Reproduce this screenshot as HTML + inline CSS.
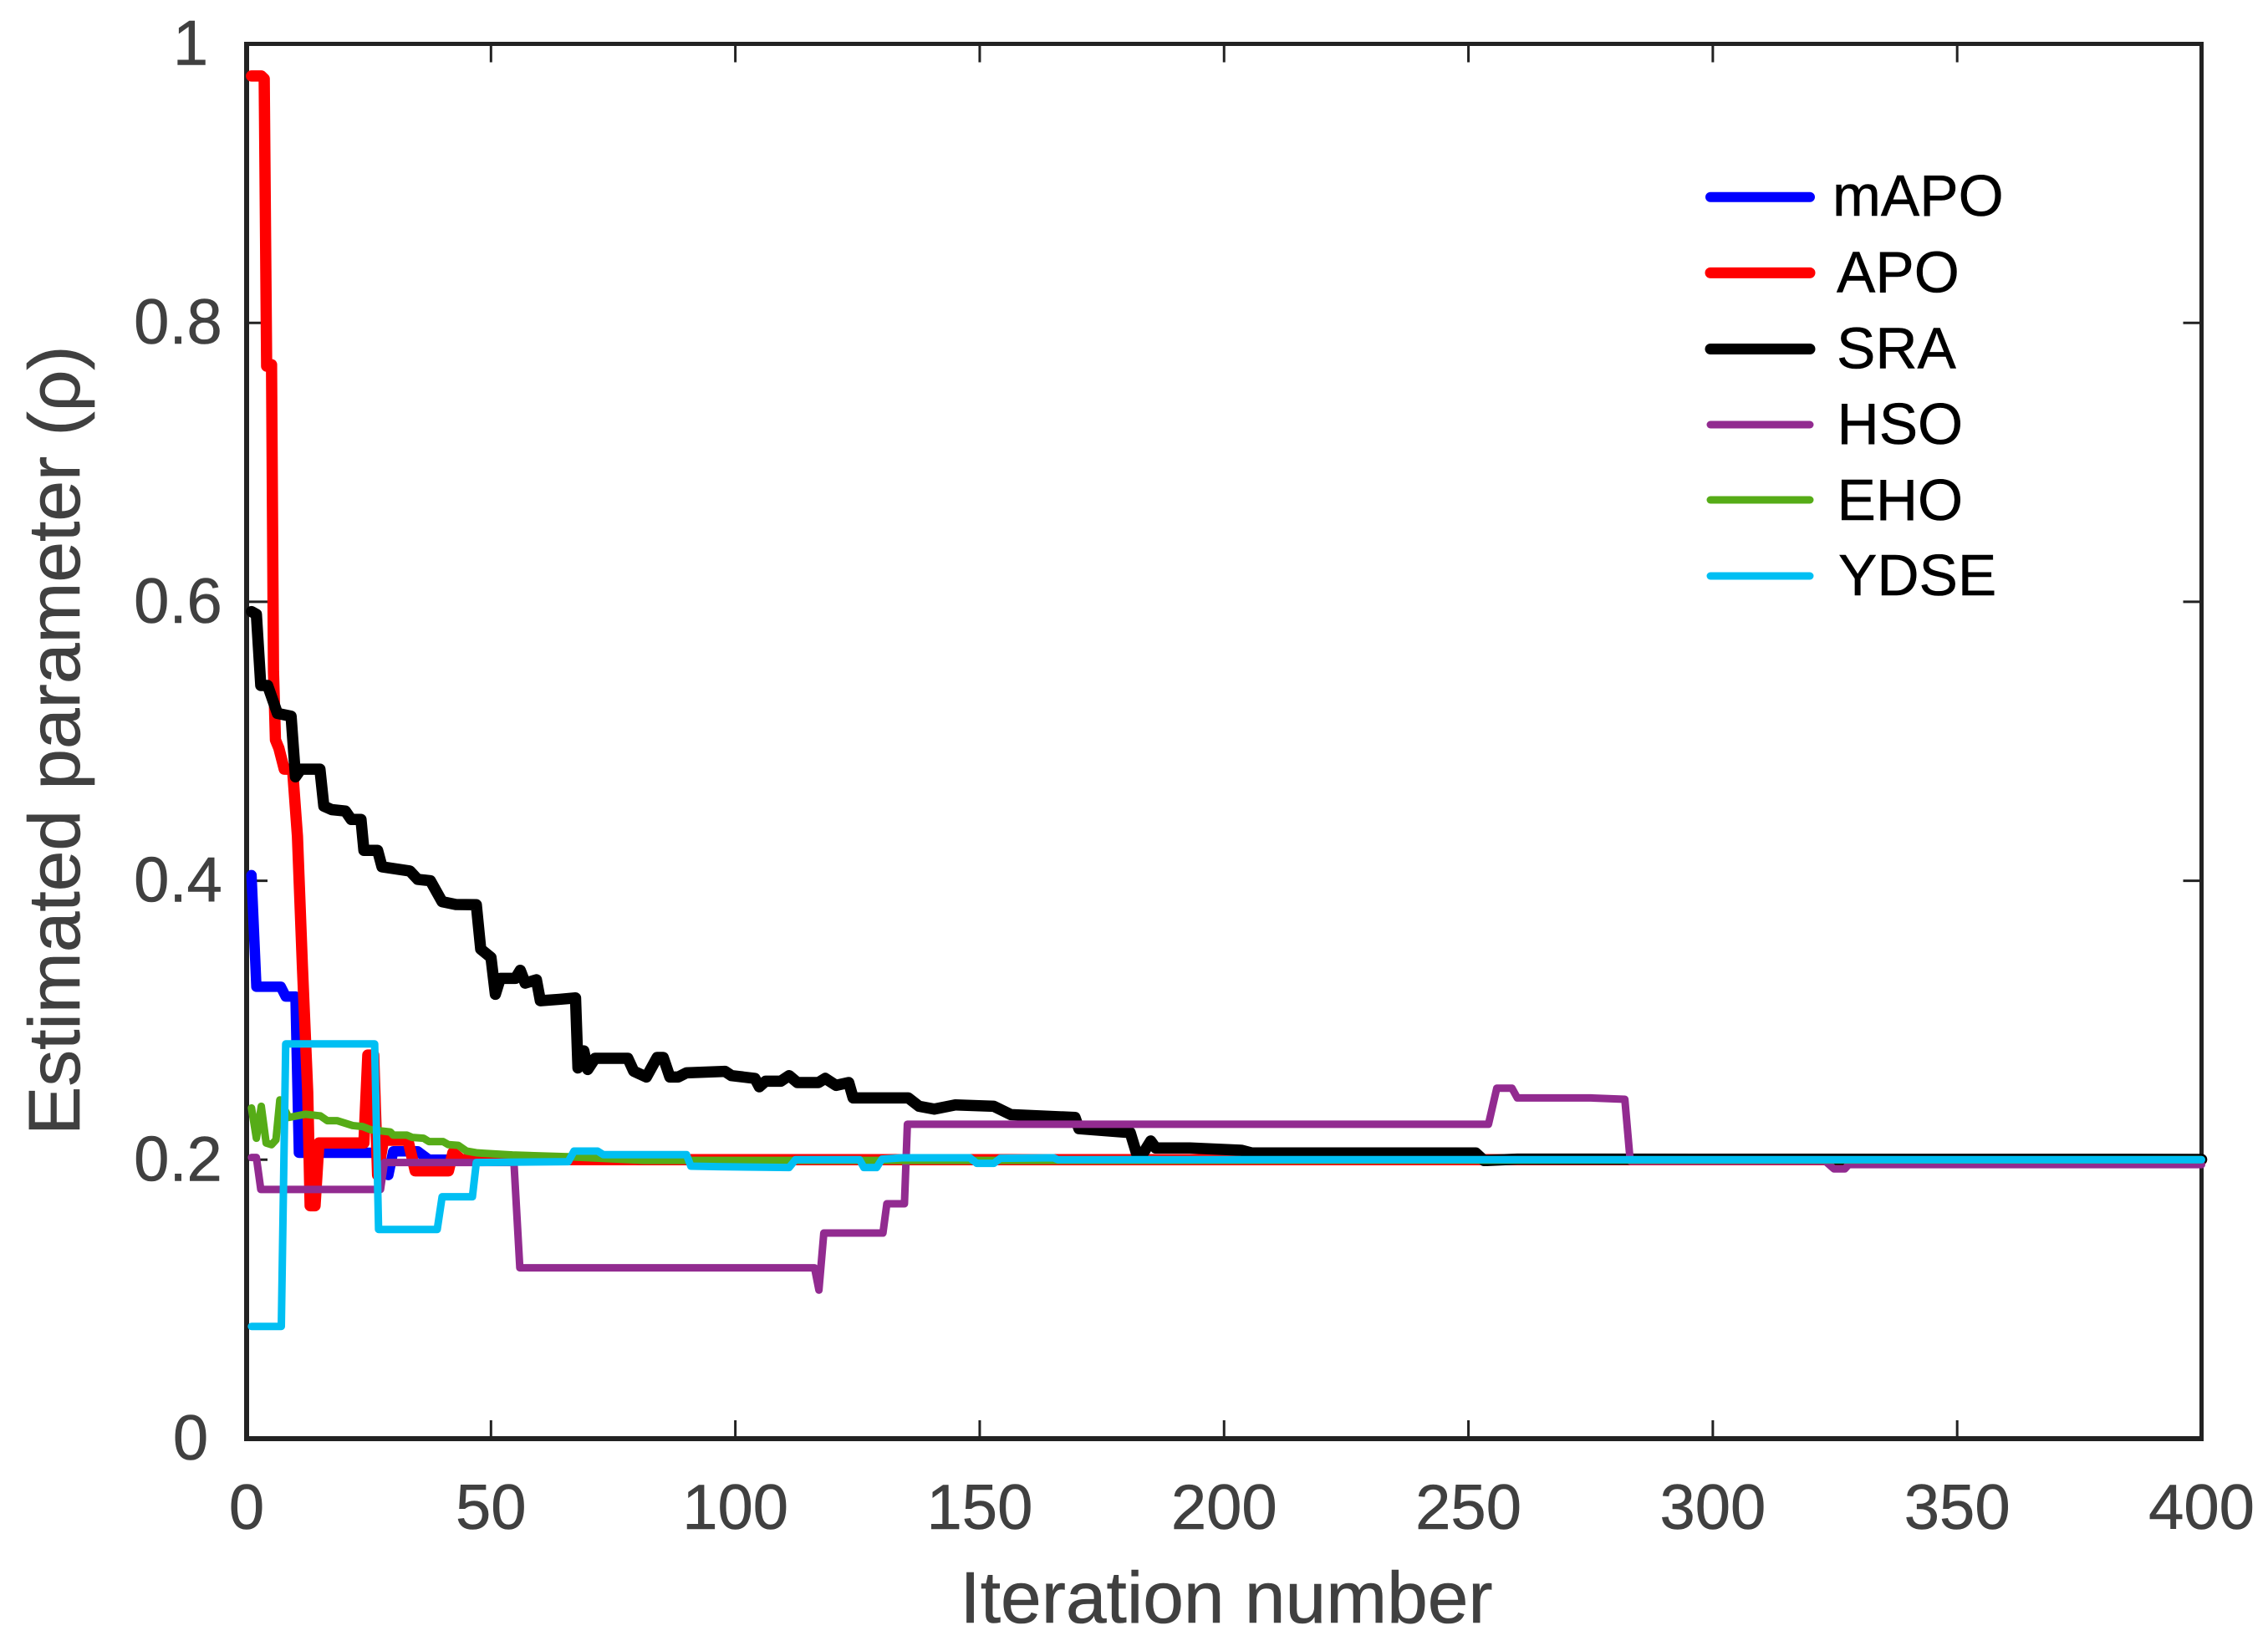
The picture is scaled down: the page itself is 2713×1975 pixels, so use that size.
<!DOCTYPE html>
<html>
<head>
<meta charset="utf-8">
<style>
html,body{margin:0;padding:0;background:#fff;}
svg{display:block;}
text{font-family:"Liberation Sans",Arial,sans-serif;}
</style>
</head>
<body>
<svg id="chart" xmlns="http://www.w3.org/2000/svg" width="2713" height="1975" viewBox="0 0 2713 1975">
<rect x="0" y="0" width="2713" height="1975" fill="#ffffff"/>
<g id="ticks"></g>
<line x1="295" y1="50" x2="295" y2="1724" stroke="#222222" stroke-width="6"/>
<line x1="292" y1="1721" x2="2636" y2="1721" stroke="#222222" stroke-width="6"/>
<line x1="2633.5" y1="50" x2="2633.5" y2="1724" stroke="#222222" stroke-width="5"/>
<line x1="292" y1="52.5" x2="2636" y2="52.5" stroke="#222222" stroke-width="5"/>
<g id="tick-labels"></g>
<g id="series"></g>
<text x="1467" y="1941" font-size="87.5" fill="#404040" stroke="#404040" stroke-width="0.6" text-anchor="middle">Iteration number</text>
<text transform="translate(95,1358) rotate(-90)" font-size="87.5" fill="#404040" stroke="#404040" stroke-width="0.6">Estimated parameter (ρ)</text>
<g>
<line x1="2046" y1="235.7" x2="2165" y2="235.7" stroke="#0000ff" stroke-width="12" stroke-linecap="round"/>
<text x="2192" y="258" font-size="69.5" fill="#000" stroke="#000" stroke-width="0.5">mAPO</text>
<line x1="2046" y1="326.4" x2="2165" y2="326.4" stroke="#ff0000" stroke-width="13" stroke-linecap="round"/>
<text x="2197" y="349.5" font-size="69.5" fill="#000" stroke="#000" stroke-width="0.5">APO</text>
<line x1="2046" y1="417.5" x2="2165" y2="417.5" stroke="#000000" stroke-width="13" stroke-linecap="round"/>
<text x="2197" y="440.5" font-size="69.5" fill="#000" stroke="#000" stroke-width="0.5">SRA</text>
<line x1="2046" y1="508" x2="2165" y2="508" stroke="#922b90" stroke-width="9" stroke-linecap="round"/>
<text x="2197.5" y="531" font-size="69.5" fill="#000" stroke="#000" stroke-width="0.5">HSO</text>
<line x1="2046" y1="598" x2="2165" y2="598" stroke="#56ac17" stroke-width="9" stroke-linecap="round"/>
<text x="2197.5" y="621.8" font-size="69.5" fill="#000" stroke="#000" stroke-width="0.5">EHO</text>
<line x1="2046" y1="689" x2="2165" y2="689" stroke="#00bff3" stroke-width="9" stroke-linecap="round"/>
<text x="2199" y="712" font-size="69.5" fill="#000" stroke="#000" stroke-width="0.5">YDSE</text>
</g>
</svg>
<script>
const xTickValues = [0, 50, 100, 150, 200, 250, 300, 350, 400];
const xTickLabels = ['0', '50', '100', '150', '200', '250', '300', '350', '400'];
const yTickValues = [0, 0.2, 0.4, 0.6, 0.8, 1];
const yTickLabels = ['0', '0.2', '0.4', '0.6', '0.8', '1'];

const mapoIter = [1, 2, 7, 8, 10, 10.7, 26, 27.5, 29, 30, 35, 37.3, 400];
const mapoVal = [0.404, 0.324, 0.324, 0.317, 0.317, 0.205, 0.205, 0.2, 0.189, 0.206, 0.206, 0.2, 0.2];

const apoIter = [1, 3, 3.6, 4.1, 5.1, 5.5, 5.9, 6.6, 7.7, 9.4, 10.4, 11.4, 12.5, 13, 14, 14.8, 24, 24.8, 26, 26.8, 28, 33, 34.5, 41.3, 42.2, 44, 400];
const apoVal = [0.977, 0.977, 0.975, 0.769, 0.77, 0.55, 0.501, 0.495, 0.48, 0.48, 0.432, 0.34, 0.2486, 0.167, 0.167, 0.212, 0.212, 0.275, 0.275, 0.189, 0.214, 0.214, 0.192, 0.192, 0.205, 0.2, 0.2];

const sraIter = [1, 2, 2.9, 4.3, 6.3, 9.1, 10, 11.1, 15, 15.8, 17.4, 20.2, 21.4, 23.4, 24, 26.8, 27.7, 33.4, 35, 37.6, 40, 42.8, 47, 47.9, 50, 50.9, 51.9, 55, 56, 57, 59.3, 60.1, 64, 67.3, 67.8, 69, 69.8, 71.3, 78, 79.2, 81.8, 84, 85.25, 86.6, 88.3, 90, 97.9, 99.2, 104, 104.9, 106.2, 109.3, 111, 112.7, 117, 118.4, 120.6, 123.2, 124.1, 135.4, 137.6, 140.7, 145, 152.9, 156.4, 169.5, 170.3, 180.8, 182.1, 183.4, 185, 186, 193, 203.5, 205.7, 251.5, 253.2, 260, 400];
const sraVal = [0.593, 0.591, 0.54, 0.54, 0.52, 0.518, 0.4745, 0.48, 0.48, 0.4535, 0.451, 0.45, 0.444, 0.444, 0.4218, 0.4218, 0.41, 0.407, 0.401, 0.4, 0.385, 0.383, 0.3828, 0.351, 0.345, 0.3186, 0.33, 0.33, 0.3358, 0.3266, 0.329, 0.314, 0.315, 0.316, 0.2658, 0.278, 0.2647, 0.2727, 0.2727, 0.2635, 0.2593, 0.2733, 0.2733, 0.2593, 0.2593, 0.2623, 0.2633, 0.2603, 0.2583, 0.2523, 0.2563, 0.2563, 0.2603, 0.2553, 0.2553, 0.2583, 0.2533, 0.2553, 0.2443, 0.2443, 0.2383, 0.2363, 0.2393, 0.2383, 0.2323, 0.2303, 0.2223, 0.2194, 0.2044, 0.2044, 0.2134, 0.2084, 0.2084, 0.2068, 0.2048, 0.2048, 0.1994, 0.2004, 0.2002];

const hsoIter = [1, 2, 2.9, 27.4, 28.2, 54.7, 55.9, 116.2, 117.1, 118.1, 130.2, 131, 134.6, 135.2, 254.1, 255.8, 258.9, 260, 275, 282, 283.1, 323, 324.8, 327, 327.8, 400];
const hsoVal = [0.2016, 0.2016, 0.1787, 0.1787, 0.198, 0.198, 0.1225, 0.1225, 0.1065, 0.1474, 0.1474, 0.1684, 0.1684, 0.2254, 0.2254, 0.2513, 0.2513, 0.2443, 0.2443, 0.2433, 0.199, 0.199, 0.1934, 0.1934, 0.1965, 0.1965];

const ehoIter = [1, 2, 3, 4, 5.1, 6, 6.8, 8.6, 12, 15.1, 16.5, 18.5, 21.7, 23.7, 25.4, 29.4, 30, 32.8, 33.9, 36.2, 37.3, 40.2, 41.3, 43.3, 45, 47, 48.5, 54.4, 65.8, 81.2, 180, 400];
const ehoVal = [0.2371, 0.2154, 0.2383, 0.212, 0.2108, 0.2142, 0.2429, 0.2303, 0.2326, 0.2314, 0.228, 0.228, 0.2245, 0.2238, 0.2215, 0.2199, 0.2176, 0.2176, 0.216, 0.2154, 0.213, 0.213, 0.2108, 0.2103, 0.2062, 0.205, 0.2046, 0.2034, 0.2021, 0.1995, 0.1995, 0.2];

const ydseIter = [1, 7.1, 8, 26.2, 27, 39, 40, 46.2, 47, 65.8, 67, 71.8, 73, 90, 90.9, 96.6, 111, 112.3, 125.4, 126.3, 128.9, 130, 134.1, 148, 149.4, 152.9, 154.2, 165.1, 166, 400];
const ydseVal = [0.0805, 0.0805, 0.283, 0.283, 0.15, 0.15, 0.1734, 0.1734, 0.198, 0.1986, 0.2062, 0.2062, 0.2036, 0.2036, 0.1954, 0.195, 0.1944, 0.2, 0.2, 0.1944, 0.1944, 0.2004, 0.2014, 0.2014, 0.1974, 0.1974, 0.201, 0.2014, 0.2, 0.2];

const NS = 'http://www.w3.org/2000/svg';
function xAxis(v) { return 295 + v * (2633.5 - 295) / 400; }
function yAxis(v) { return 1721 - v * (1721 - 52.5); }

const tickGroup = document.getElementById('ticks');
const labelGroup = document.getElementById('tick-labels');
const seriesGroup = document.getElementById('series');

function addTick(x1, y1, x2, y2) {
  const t = document.createElementNS(NS, 'line');
  t.setAttribute('x1', x1);
  t.setAttribute('y1', y1);
  t.setAttribute('x2', x2);
  t.setAttribute('y2', y2);
  t.setAttribute('stroke', '#222222');
  t.setAttribute('stroke-width', '3');
  
  
  tickGroup.appendChild(t);
}
function addLabel(txt, x, y) {
  const l = document.createElementNS(NS, 'text');
  l.setAttribute('x', x);
  l.setAttribute('y', y);
  l.setAttribute('font-size', '76');
  l.setAttribute('fill', '#404040');
  l.setAttribute('stroke', '#404040');
  l.setAttribute('stroke-width', '0.6');
  l.setAttribute('text-anchor', 'middle');
  
  
  l.textContent = txt;
  labelGroup.appendChild(l);
}
xTickValues.forEach(function (v, i) {
  const x = xAxis(v);
  if (i > 0 && i < xTickValues.length - 1) {
    addTick(x, 1721, x, 1699);
    addTick(x, 52.5, x, 74.5);
  }
  addLabel(xTickLabels[i], x, 1829);
});
yTickValues.forEach(function (v, i) {
  const y = yAxis(v);
  if (i > 0 && i < yTickValues.length - 1) {
    addTick(295, y, 320, y);
    addTick(2633.5, y, 2611.5, y);
  }
  addLabel(yTickLabels[i], yTickLabels[i].length > 1 ? 213 : 228, y + 25);
});

function drawSeries(name, xs, ys, color, width) {
  const p = document.createElementNS(NS, 'polyline');
  const pts = xs.map(function (x, i) { return xAxis(x).toFixed(2) + ',' + yAxis(ys[i]).toFixed(2); });
  p.setAttribute('points', pts.join(' '));
  p.setAttribute('fill', 'none');
  p.setAttribute('stroke', color);
  p.setAttribute('stroke-width', width);
  p.setAttribute('stroke-linejoin', 'round');
  p.setAttribute('stroke-linecap', 'round');
  
  
  seriesGroup.appendChild(p);
}
drawSeries('series-mapo', mapoIter, mapoVal, '#0000ff', 12.5);
drawSeries('series-apo', apoIter, apoVal, '#ff0000', 13.5);
drawSeries('series-sra', sraIter, sraVal, '#000000', 13.5);
drawSeries('series-hso', hsoIter, hsoVal, '#922b90', 9);
drawSeries('series-eho', ehoIter, ehoVal, '#56ac17', 9);
drawSeries('series-ydse', ydseIter, ydseVal, '#00bff3', 9);
</script>
</body>
</html>
